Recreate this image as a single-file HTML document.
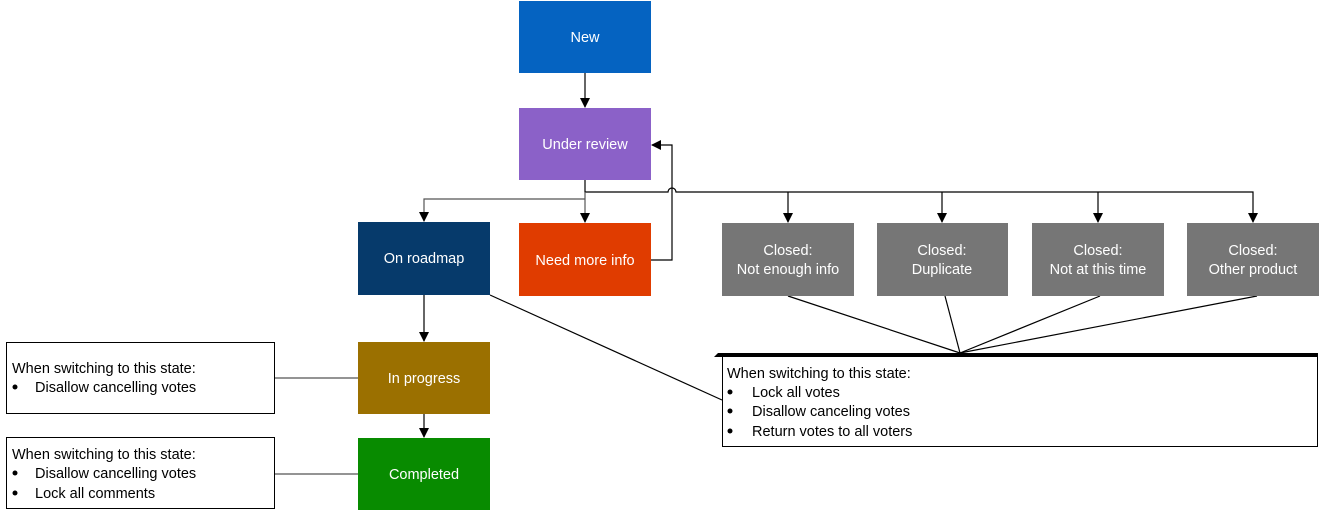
<!DOCTYPE html>
<html><head><meta charset="utf-8"><style>
html,body{margin:0;padding:0;background:#fff;width:1323px;height:511px;overflow:hidden}
svg text{font-family:"Liberation Sans",sans-serif;font-size:14.5px}
</style></head><body>
<svg width="1323" height="511" xmlns="http://www.w3.org/2000/svg">
<defs><marker id="a" markerWidth="10" markerHeight="10" refX="9" refY="5" orient="auto" markerUnits="userSpaceOnUse"><path d="M0,0 L10,5 L0,10 z" fill="#000"/></marker></defs>
<g fill="none" stroke="#000" stroke-width="1.2">
<line x1="585" y1="73" x2="585" y2="107" marker-end="url(#a)"/>
<path d="M585,180 V192 H668 a4,4 0 0 1 8,0 H1253 V222" marker-end="url(#a)"/>
<line x1="788" y1="192" x2="788" y2="222" marker-end="url(#a)"/>
<line x1="942" y1="192" x2="942" y2="222" marker-end="url(#a)"/>
<line x1="1098" y1="192" x2="1098" y2="222" marker-end="url(#a)"/>
<line x1="585" y1="192" x2="585" y2="222" marker-end="url(#a)" stroke="#555"/>
<path d="M585,199 H424 V221" marker-end="url(#a)" stroke="#555"/>
<path d="M651,260 H672 V145 H652" marker-end="url(#a)"/>
<line x1="424" y1="295" x2="424" y2="341" marker-end="url(#a)"/>
<line x1="424" y1="414" x2="424" y2="437" marker-end="url(#a)"/>
<line x1="275" y1="378" x2="358" y2="378" stroke="#555"/>
<line x1="275" y1="474" x2="358" y2="474" stroke="#555"/>
<line x1="490" y1="295" x2="722" y2="400"/>
<line x1="788" y1="296" x2="960" y2="353"/>
<line x1="945" y1="296" x2="960" y2="353"/>
<line x1="1100" y1="296" x2="960" y2="353"/>
<line x1="1257" y1="296" x2="960" y2="353"/>
</g>
<rect x="519" y="1" width="132" height="72" fill="#0563c1"/>
<rect x="519" y="108" width="132" height="72" fill="#8b61c8"/>
<rect x="358" y="222" width="132" height="73" fill="#063a6b"/>
<rect x="519" y="223" width="132" height="73" fill="#e03c00"/>
<rect x="722" y="223" width="132" height="73" fill="#767676"/>
<rect x="877" y="223" width="131" height="73" fill="#767676"/>
<rect x="1032" y="223" width="132" height="73" fill="#767676"/>
<rect x="1187" y="223" width="132" height="73" fill="#767676"/>
<rect x="358" y="342" width="132" height="72" fill="#9b7000"/>
<rect x="358" y="438" width="132" height="72" fill="#088b00"/>
<g fill="#fff" text-anchor="middle">
<text x="585" y="42">New</text>
<text x="585" y="149">Under review</text>
<text x="424" y="263">On roadmap</text>
<text x="585" y="265">Need more info</text>
<text x="788" y="255">Closed:</text><text x="788" y="274">Not enough info</text>
<text x="942" y="255">Closed:</text><text x="942" y="274">Duplicate</text>
<text x="1098" y="255">Closed:</text><text x="1098" y="274">Not at this time</text>
<text x="1253" y="255">Closed:</text><text x="1253" y="274">Other product</text>
<text x="424" y="383">In progress</text>
<text x="424" y="479">Completed</text>
</g>
<rect x="6.5" y="342.5" width="268" height="71" fill="#fff" stroke="#000"/>
<rect x="6.5" y="437.5" width="268" height="71" fill="#fff" stroke="#000"/>
<rect x="722.5" y="354.5" width="595" height="92" fill="#fff" stroke="#000"/>
<path d="M714,357 L718,353 H1318 V357 Z" fill="#000"/>
<g fill="#000">
<circle cx="15" cy="387" r="2.5"/>
<circle cx="15" cy="473" r="2.5"/><circle cx="15" cy="493" r="2.5"/>
<circle cx="730" cy="392" r="2.5"/><circle cx="730" cy="411" r="2.5"/><circle cx="730" cy="431" r="2.5"/>
<text x="12" y="373">When switching to this state:</text>
<text x="35" y="392">Disallow cancelling votes</text>
<text x="12" y="459">When switching to this state:</text>
<text x="35" y="478">Disallow cancelling votes</text>
<text x="35" y="498">Lock all comments</text>
<text x="727" y="378">When switching to this state:</text>
<text x="752" y="397">Lock all votes</text>
<text x="752" y="416">Disallow canceling votes</text>
<text x="752" y="436">Return votes to all voters</text>
</g>
</svg>
</body></html>
